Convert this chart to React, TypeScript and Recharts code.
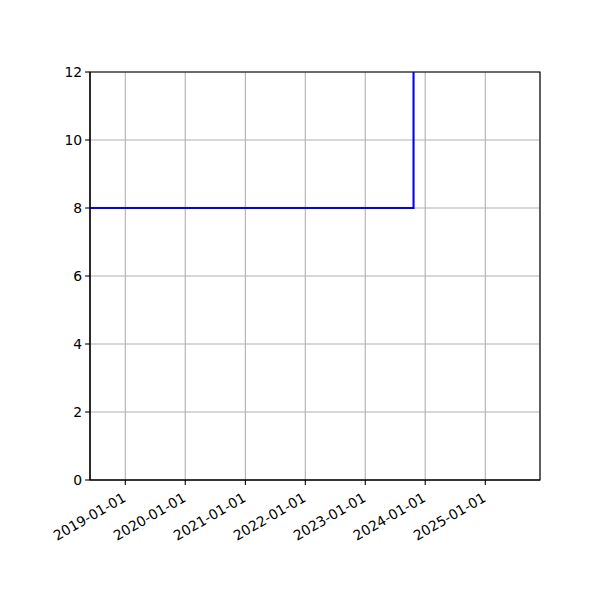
import { LineChart, Line, XAxis, YAxis, CartesianGrid, ReferenceArea } from "recharts";

// dates (UTC)
const dates = ["2018-05-31", "2023-10-22", "2023-10-22"];
const values = [8, 8, 14];
const xTickLabels = [
  "2019-01-01",
  "2020-01-01",
  "2021-01-01",
  "2022-01-01",
  "2023-01-01",
  "2024-01-01",
  "2025-01-01",
];
const yTicks = [0, 2, 4, 6, 8, 10, 12];
const xStart = "2018-05-31";
const xEnd = "2025-11-30";

const toMs = (d: string) => Date.parse(d + "T00:00:00Z");

const data = dates.map((d, i) => ({ t: toMs(d), v: values[i] }));
const xTicks = xTickLabels.map(toMs);

const FONT = "DejaVu Sans, sans-serif";

function DateTick(props: any) {
  const { x, y, payload } = props;
  const label = new Date(payload.value).toISOString().slice(0, 10);
  return (
    <text
      transform={`translate(${x - 4},${y + 4}) rotate(-30)`}
      textAnchor="end"
      dy="0.8em"
      fontFamily={FONT}
      fontSize={13.9}
      fill="#000"
    >
      {label}
    </text>
  );
}

export default function App() {
  return (
    <div style={{ width: 600, height: 600, background: "#fff" }}>
      <style>{`body{margin:0}`}</style>
      <LineChart
        width={600}
        height={600}
        data={data}
        margin={{ top: 72, right: 60, left: 0, bottom: 0 }}
      >
        <CartesianGrid stroke="#b0b0b0" strokeWidth={1.1} />
        <XAxis
          dataKey="t"
          type="number"
          scale="time"
          domain={[toMs(xStart), toMs(xEnd)]}
          ticks={xTicks}
          allowDataOverflow
          height={120}
          tick={<DateTick />}
          tickSize={4.9}
          tickLine={{ stroke: "#000", strokeWidth: 1.1 }}
          axisLine={{ stroke: "#000", strokeWidth: 1.1 }}
          interval={0}
        />
        <YAxis
          type="number"
          domain={[0, 12]}
          ticks={yTicks}
          allowDataOverflow
          width={90}
          tickSize={4.9}
          tickMargin={3}
          tick={{ fontFamily: FONT, fontSize: 13.9, fill: "#000" }}
          tickLine={{ stroke: "#000", strokeWidth: 1.1 }}
          axisLine={{ stroke: "#000", strokeWidth: 1.1 }}
          interval={0}
        />
        <Line
          type="linear"
          dataKey="v"
          stroke="#0000ff"
          strokeWidth={2.08}
          dot={false}
          isAnimationActive={false}
        />
        {/* frame (matplotlib spines) */}
        <ReferenceArea
          x1={toMs(xStart)}
          x2={toMs(xEnd)}
          y1={0}
          y2={12}
          fill="none"
          stroke="#000"
          strokeWidth={1.1}
        />
      </LineChart>
    </div>
  );
}
